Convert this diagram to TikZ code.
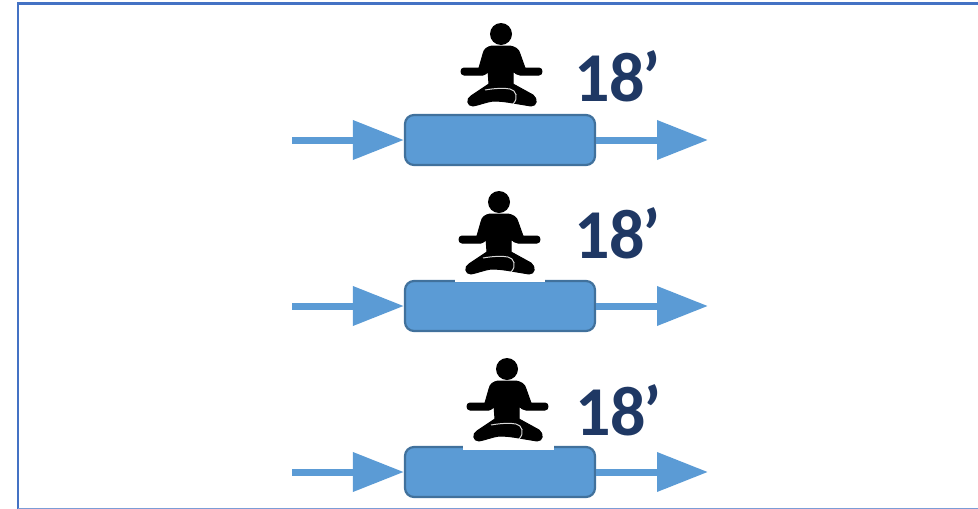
\documentclass[tikz,border=0pt]{standalone}
\usepackage{fontspec}
\newfontfamily\timefont{Carlito}
\usetikzlibrary{arrows.meta}
\definecolor{cb}{RGB}{91, 155, 213}
\definecolor{ce}{RGB}{65, 113, 156}
\definecolor{ct}{RGB}{31, 56, 100}
\definecolor{cf}{RGB}{68, 114, 196}
\tikzset{
  blockbox/.style={rectangle, rounded corners=9pt, minimum width=190pt, minimum height=50pt, fill=cb, draw=ce, line width=2.2pt},
  flowarrow/.style={line width=7pt, color=cb, -{Triangle[length=51pt, width=38pt]}},
  timelabel/.style={inner sep=0pt, anchor=base west, text=ct, font=\timefont\bfseries\fontsize{70}{70}\selectfont},
  gapbox/.style={fill=white, draw=none},
  sitter/.pic={
    \fill [black] (0pt, 0pt) circle (11pt);
    % body with arms and legs
    \fill [black, line join=round, draw=black, line width=1pt]
      (-9pt, -12pt) .. controls (-14pt, -13pt) and (-17pt, -15pt) .. (-18pt, -20pt)
      -- (-22pt, -34pt) -- (-37pt, -34pt)
      .. controls (-41pt, -34pt) and (-41pt, -41pt) .. (-37pt, -41pt)
      -- (-18pt, -41pt) .. controls (-16pt, -41pt) and (-14pt, -39pt) .. (-13pt, -37pt)
      -- (-12pt, -50pt) -- (-30pt, -62pt)
      .. controls (-35pt, -65pt) and (-34pt, -72pt) .. (-28pt, -72pt)
      .. controls (-22pt, -71pt) and (-15pt, -68pt) .. (-8pt, -67pt)
      .. controls (0pt, -67pt) and (6pt, -68pt) .. (12pt, -69pt)
      .. controls (18pt, -70pt) and (24pt, -71pt) .. (30pt, -72pt)
      .. controls (36pt, -72pt) and (37pt, -65pt) .. (32pt, -61pt)
      -- (12pt, -50pt) -- (12pt, -37pt)
      .. controls (14pt, -39pt) and (16pt, -41pt) .. (19pt, -41pt)
      -- (38pt, -41pt)
      .. controls (42pt, -41pt) and (42pt, -34pt) .. (38pt, -34pt)
      -- (24pt, -34pt) -- (19pt, -20pt)
      .. controls (18pt, -15pt) and (14pt, -13pt) .. (9pt, -12pt) -- cycle;
    % crease
    \draw [white!85!black, line width=1pt] (-16pt, -56pt) .. controls (-5pt, -54pt) and (4pt, -54pt) .. (9pt, -55pt) .. controls (15pt, -56pt) and (18pt, -64pt) .. (12pt, -70pt);
  }
}
\begin{document}
\begin{tikzpicture}
\useasboundingbox (0pt, 0pt) rectangle (978pt, -509pt);
\draw [cf, line width=2.5pt] (978pt, -3.5pt) -- (18pt, -3.5pt) -- (18pt, -509pt);
\draw [cf!70, line width=2pt] (18pt, -508.5pt) -- (978pt, -508.5pt);
\node (box1) [blockbox] at (500pt, -140pt) {};
\node (box2) [blockbox] at (500pt, -306pt) {};
\node (box3) [blockbox] at (500pt, -472pt) {};
\coordinate (in1) at (292pt, -140pt);
\coordinate (in2) at (292pt, -306pt);
\coordinate (in3) at (292pt, -472pt);
\coordinate (out1) at (708pt, -140pt);
\coordinate (out2) at (708pt, -306pt);
\coordinate (out3) at (708pt, -472pt);
\draw [flowarrow] (in1) to (box1.west);
\draw [flowarrow] (in2) to (box2.west);
\draw [flowarrow] (in3) to (box3.west);
\draw [flowarrow] (box1.east) to (out1);
\draw [flowarrow] (box2.east) to (out2);
\draw [flowarrow] (box3.east) to (out3);
\fill [gapbox] (455pt, -277pt) rectangle (545pt, -282pt);
\fill [gapbox] (463pt, -443pt) rectangle (554pt, -449.5pt);
\pic at (501pt, -34pt) {sitter};
\pic at (499pt, -202pt) {sitter};
\pic at (507pt, -369pt) {sitter};
\node (time1) [timelabel] at (574pt, -101pt) {18\kern-3pt’};
\node (time2) [timelabel] at (574pt, -258pt) {18\kern-3pt’};
\node (time3) [timelabel] at (575pt, -435pt) {18\kern-3pt’};
\end{tikzpicture}
\end{document}
